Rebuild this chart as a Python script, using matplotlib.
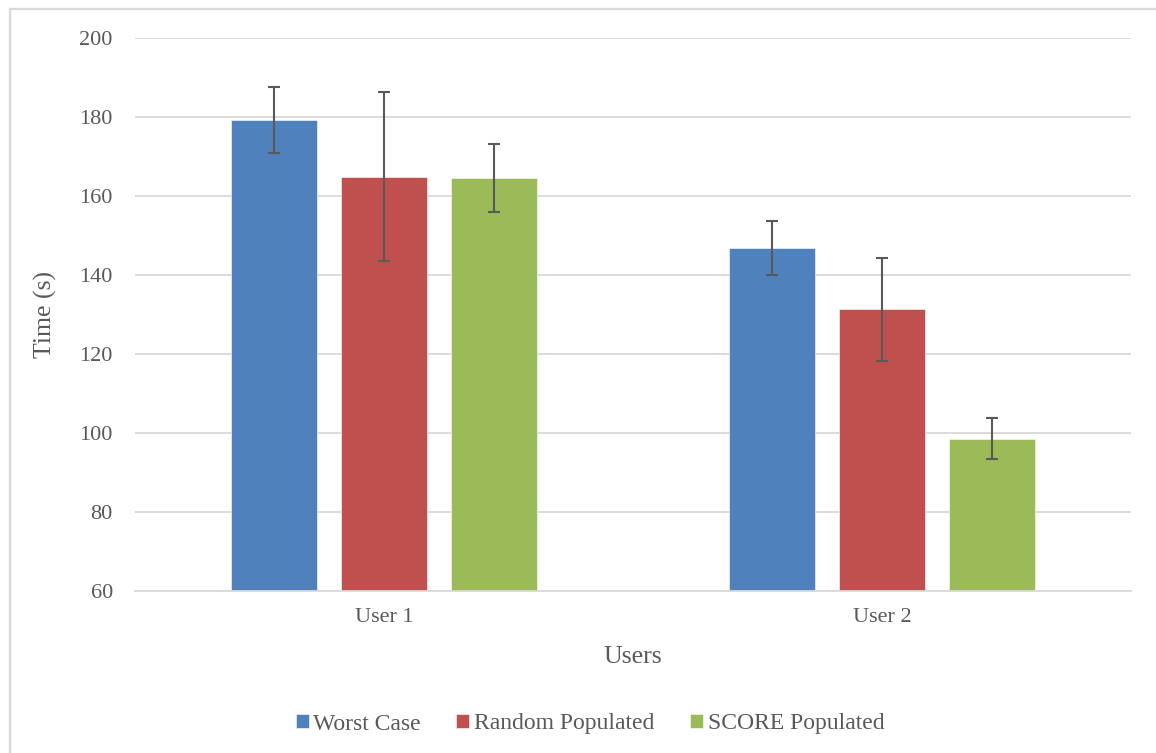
import numpy as np
import matplotlib.pyplot as plt
from matplotlib.lines import Line2D

# data
users = ['User 1', 'User 2']
series = ['Worst Case', 'Random Populated', 'SCORE Populated']
worst_case = [179.3, 146.8]
worst_case_err = [8.4, 6.9]
random_pop = [164.9, 131.3]
random_pop_err = [21.4, 13.1]
score_pop = [164.6, 98.5]
score_pop_err = [8.6, 5.2]
y_ticks = [60, 80, 100, 120, 140, 160, 180, 200]

colors = ['#4F81BD', '#C0504D', '#9BBB59']
text_col = '#595959'
grid_col = '#D9D9D9'

plt.rcParams['font.family'] = ['Liberation Serif', 'DejaVu Serif']

fig = plt.figure(figsize=(11.56, 7.53), dpi=100)
W, H = 1156, 753
ax = fig.add_axes([135 / W, 1 - 591 / H, (1131 - 135) / W, (591 - 38) / H])

x = np.arange(len(users))
width = 0.173
offsets = [-0.221, 0.0, 0.221]
values = [worst_case, random_pop, score_pop]
errors = [worst_case_err, random_pop_err, score_pop_err]

for i, name in enumerate(series):
    ax.bar(x + offsets[i], values[i], width, bottom=0, color=colors[i],
           edgecolor='white', linewidth=0.4, label=name, zorder=2)
    ax.errorbar(x + offsets[i], values[i], yerr=errors[i], fmt='none',
                ecolor=text_col, elinewidth=1.5, capsize=4.5, capthick=1.5,
                zorder=3)

ax.set_xlim(-0.5, 1.5)
ax.set_ylim(60, 200)
ax.set_yticks(y_ticks)
ax.set_xticks(x)
ax.set_xticklabels(users)
ax.yaxis.grid(True, color=grid_col, linewidth=1.3, zorder=0)
ax.set_axisbelow(True)
for s in ['top', 'right', 'left']:
    ax.spines[s].set_visible(False)
ax.spines['bottom'].set_color(grid_col)
ax.spines['bottom'].set_linewidth(1.3)
ax.tick_params(axis='both', length=0, labelsize=16, colors=text_col)
ax.tick_params(axis='y', pad=16)
ax.tick_params(axis='x', pad=12)

ax.set_ylabel('Time (s)', fontsize=18.5, color=text_col, labelpad=16)
ax.set_xlabel('Users', fontsize=18.5, color=text_col, labelpad=14)

handles, labels = ax.get_legend_handles_labels()
fig.legend(handles, labels, loc='center', bbox_to_anchor=(590 / W, 1 - 724 / H),
           ncol=3, frameon=False, fontsize=17, handlelength=0.55,
           handleheight=0.55, handletextpad=0.2, columnspacing=1.5,
           labelcolor=text_col)

# light frame around the chart area (left and top edges only visible)
fig.add_artist(Line2D([10 / W, 10 / W], [0, 1 - 9 / H], color=grid_col,
                      linewidth=1.6, transform=fig.transFigure))
fig.add_artist(Line2D([10 / W, 1], [1 - 9 / H, 1 - 9 / H], color=grid_col,
                      linewidth=1.6, transform=fig.transFigure))

fig.savefig('out.png', dpi=100)
